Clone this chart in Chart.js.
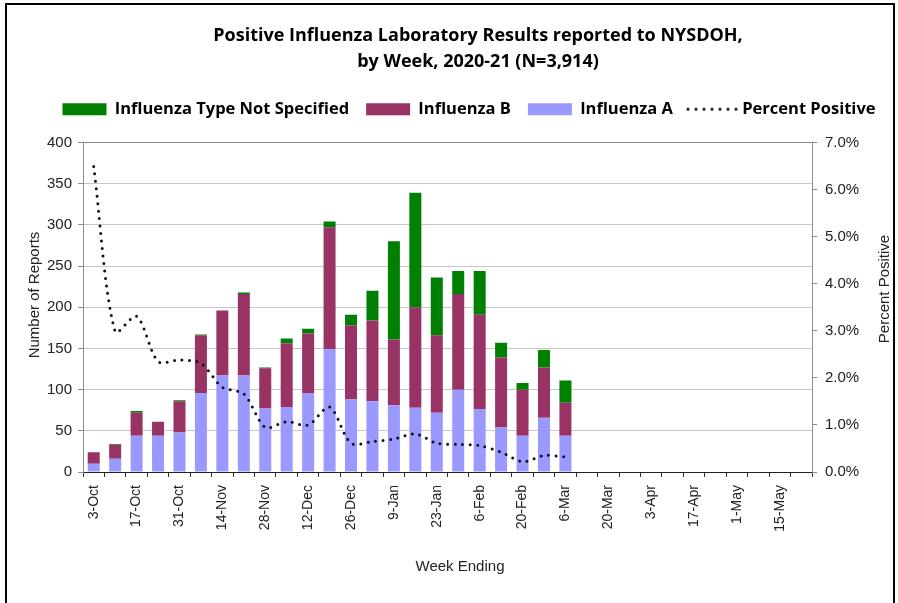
<!DOCTYPE html>
<html>
<head>
<meta charset="utf-8">
<script src="https://cdn.jsdelivr.net/npm/chart.js@4/dist/chart.umd.min.js"></script>
<style>
  html, body { margin: 0; padding: 0; background: #fff; }
  #wrap { width: 898px; height: 603px; position: relative; }
</style>
</head>
<body>
<div id="wrap"><canvas id="c" width="898" height="603"></canvas></div>
<script>
const titleLines = ['Positive Influenza Laboratory Results reported to NYSDOH,', 'by Week, 2020-21 (N=3,914)'];
const weekLabels = ['3-Oct','10-Oct','17-Oct','24-Oct','31-Oct','7-Nov','14-Nov','21-Nov','28-Nov','5-Dec','12-Dec','19-Dec','26-Dec','2-Jan','9-Jan','16-Jan','23-Jan','30-Jan','6-Feb','13-Feb','20-Feb','27-Feb','6-Mar','13-Mar','20-Mar','27-Mar','3-Apr','10-Apr','17-Apr','24-Apr','1-May','8-May','15-May','22-May'];
const fluA  = [10,16,44,44,48,96,117,117,77,79,96,149,88,86,81,78,72,100,76,54,44,66,44];
const fluB  = [14,17,28,17,38,70,79,99,49,77,72,148,90,98,80,122,94,116,115,85,56,61,40];
const fluNS = [0,1,2,0,1,1,0,2,1,6,6,7,13,36,119,139,70,28,53,18,8,21,27];
const pctPositive = [6.49,2.98,3.31,2.35,2.38,2.31,1.80,1.66,0.95,1.07,1.00,1.38,0.61,0.65,0.70,0.81,0.61,0.59,0.56,0.42,0.22,0.35,0.32];
const leftTicks = [0,50,100,150,200,250,300,350,400];
const rightTicksPct = [0,1,2,3,4,5,6,7];
const seriesNames = ['Influenza A','Influenza B','Influenza Type Not Specified','Percent Positive'];
const axisTitles = { left: 'Number of Reports', right: 'Percent Positive', bottom: 'Week Ending' };

const titleFont = "'Open Sans', Lato, sans-serif";
const bodyFont = "'Liberation Sans', Arial, sans-serif";

// dotted legend symbol for the percent line
const dotSymbol = document.createElement('canvas');
dotSymbol.width = 52; dotSymbol.height = 4;
(function () {
  const g = dotSymbol.getContext('2d');
  g.fillStyle = '#111';
  for (let k = 0; k < 7; k++) { g.beginPath(); g.arc(2 + 8 * k, 2, 1.6, 0, Math.PI * 2); g.fill(); }
})();

const decorPlugin = {
  id: 'decor',
  beforeDraw(chart) {
    const ctx = chart.ctx;
    ctx.save();
    ctx.fillStyle = '#fff';
    ctx.fillRect(0, 0, chart.width, chart.height);
    ctx.strokeStyle = '#000';
    ctx.lineWidth = 2;
    ctx.beginPath();
    ctx.moveTo(6, 603); ctx.lineTo(6, 4); ctx.lineTo(894, 4); ctx.lineTo(894, 603);
    ctx.stroke();
    ctx.restore();
  },
  afterDraw(chart) {
    const ctx = chart.ctx;
    ctx.save();
    ctx.fillStyle = '#222';
    ctx.font = '15px ' + bodyFont;
    ctx.textAlign = 'center';
    ctx.textBaseline = 'middle';
    ctx.fillText(axisTitles.bottom, 460, 567);
    ctx.save();
    ctx.translate(35, 295); ctx.rotate(-Math.PI / 2);
    ctx.fillText(axisTitles.left, 0, 0);
    ctx.restore();
    ctx.save();
    ctx.translate(885, 289); ctx.rotate(-Math.PI / 2);
    ctx.fillText(axisTitles.right, 0, 0);
    ctx.restore();
    ctx.restore();
  }
};

const shiftPlugin = {
  id: 'shift',
  afterLayout(chart) {
    const t = chart.titleBlock;
    if (t) { t.left += 19; t.right += 19; }
    const l = chart.legend;
    if (l) { l.left += 10; l.right += 10; l.top -= 15; l.bottom -= 15; }
  }
};

const legendOrder = [2, 1, 0, 3];

new Chart(document.getElementById('c'), {
  data: {
    labels: weekLabels,
    datasets: [
      { type: 'bar', label: seriesNames[0], data: fluA, backgroundColor: '#9999FF', borderWidth: 0, stack: 's', yAxisID: 'y', order: 1, pointStyle: 'rect', barPercentage: 0.56, categoryPercentage: 1 },
      { type: 'bar', label: seriesNames[1], data: fluB, backgroundColor: '#993366', borderWidth: 0, stack: 's', yAxisID: 'y', order: 1, pointStyle: 'rect', barPercentage: 0.56, categoryPercentage: 1 },
      { type: 'bar', label: seriesNames[2], data: fluNS, backgroundColor: '#008000', borderWidth: 0, stack: 's', yAxisID: 'y', order: 1, pointStyle: 'rect', barPercentage: 0.56, categoryPercentage: 1 },
      { type: 'line', label: seriesNames[3], data: pctPositive, yAxisID: 'y1', order: 0, borderColor: '#111', backgroundColor: 'rgba(0,0,0,0)', borderWidth: 3, borderDash: [0, 7.5], borderCapStyle: 'round', pointRadius: 0, pointStyle: dotSymbol, tension: 0.3, fill: false, spanGaps: false }
    ]
  },
  options: {
    responsive: false,
    animation: false,
    layout: { padding: { top: 10, left: 20, right: 0, bottom: 28 } },
    plugins: {
      tooltip: { enabled: false },
      title: {
        display: true,
        text: titleLines,
        color: '#000',
        font: { family: titleFont, size: 18, weight: 'bold', lineHeight: 26 / 18 },
        padding: { top: 13, bottom: 24 }
      },
      legend: {
        display: true,
        position: 'top',
        labels: {
          usePointStyle: true,
          pointStyleWidth: 44,
          boxHeight: 12,
          padding: 17,
          color: '#000',
          font: { family: titleFont, size: 16.5, weight: 'bold' },
          sort: (a, b) => legendOrder[a.datasetIndex] - legendOrder[b.datasetIndex]
        }
      }
    },
    scales: {
      x: {
        stacked: true,
        offset: true,
        grid: { display: true, offset: true, drawOnChartArea: false, drawTicks: true, tickLength: 5, tickColor: '#333' },
        border: { display: true, color: '#222', width: 1 },
        ticks: {
          autoSkip: false, maxRotation: 90, minRotation: 90, padding: 8,
          color: '#222', font: { family: bodyFont, size: 14 },
          callback: (v, i) => (i % 2 === 0 ? weekLabels[i] : '')
        },
        afterFit: (s) => { s.height = 103; }
      },
      y: {
        type: 'linear', position: 'left', stacked: true,
        min: 0, max: 400,
        afterBuildTicks: (s) => { s.ticks = leftTicks.map(v => ({ value: v })); },
        grid: { color: (c) => (c.tick && c.tick.value === 400 ? '#8c8c8c' : '#c8c8c8'), drawTicks: true, tickLength: 5, tickColor: '#8c8c8c' },
        border: { display: true, color: '#8c8c8c', width: 1 },
        ticks: { color: '#222', padding: 6, font: { family: bodyFont, size: 15 } },
        afterFit: (s) => { s.width = 63; }
      },
      y1: {
        type: 'linear', position: 'right',
        min: 0, max: 7,
        afterBuildTicks: (s) => { s.ticks = rightTicksPct.map(v => ({ value: v })); },
        grid: { drawOnChartArea: false, drawTicks: true, tickLength: 5, tickColor: '#8c8c8c' },
        border: { display: true, color: '#8c8c8c', width: 1 },
        ticks: { color: '#222', padding: 8, font: { family: bodyFont, size: 15 }, callback: (v) => Number(v).toFixed(1) + '%' },
        afterFit: (s) => { s.width = 86; }
      }
    }
  },
  plugins: [decorPlugin, shiftPlugin]
});
</script>
</body>
</html>
